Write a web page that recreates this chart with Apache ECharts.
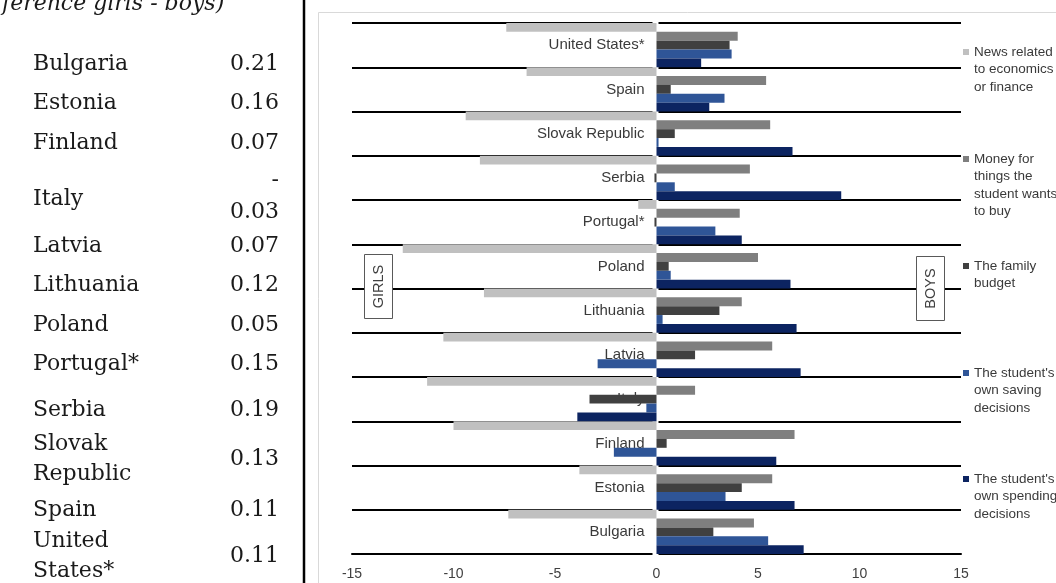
<!DOCTYPE html>
<html><head><meta charset="utf-8">
<script src="https://cdn.jsdelivr.net/npm/echarts@6/dist/echarts.min.js"></script>
<style>html,body{margin:0;padding:0;background:#fff}#c{width:1056px;height:583px}</style>
</head><body><div id="c"></div>
<script>
// ---------- data ----------
const categories = ['Bulgaria','Estonia','Finland','Italy','Latvia','Lithuania','Poland','Portugal*','Serbia','Slovak Republic','Spain','United States*'];
const newsFinance  = [-7.3,-3.8,-10.0,-11.3,-10.5,-8.5,-12.5,-0.9,-8.7,-9.4,-6.4,-7.4];
const moneyToBuy   = [4.8,5.7,6.8,1.9,5.7,4.2,5.0,4.1,4.6,5.6,5.4,4.0];
const familyBudget = [2.8,4.2,0.5,-3.3,1.9,3.1,0.6,-0.1,-0.1,0.9,0.7,3.6];
const ownSaving    = [5.5,3.4,-2.1,-0.5,-2.9,0.3,0.7,2.9,0.9,0.1,3.35,3.7];
const ownSpending  = [7.25,6.8,5.9,-3.9,7.1,6.9,6.6,4.2,9.1,6.7,2.6,2.2];
const seriesNames = ["News related to economics or finance","Money for things the student wants to buy","The family budget","The student's own saving decisions","The student's own spending decisions"];
const legendLabels = ["News related\nto economics\nor finance","Money for\nthings the\nstudent wants\nto buy","The family\nbudget","The student's\nown saving\ndecisions","The student's\nown spending\ndecisions"];
const xMin = -15, xMax = 15, xStep = 5;
const sideLabels = ['GIRLS','BOYS'];
const tableTitle = 'ference girls - boys)';
const tableCountries = ['Bulgaria','Estonia','Finland','Italy','Latvia','Lithuania','Poland','Portugal*','Serbia','Slovak Republic','Spain','United States*'];
const tableValues = [0.21,0.16,0.07,-0.03,0.07,0.12,0.05,0.15,0.19,0.13,0.11,0.11];

// ---------- layout / style ----------
const colors = ['#c0c0c0','#7f7f7f','#404040','#2f5597','#0c2461'];
const legendFirstLineY = [52,159,266,373,479];
const legendLH = 17.5;
const tableRowY = [64,103,143,199,246,285,325,364,410,459,510,556];
const gridLeft = 352;
const sans = '"Liberation Sans", Arial, sans-serif';
const serif = '"DejaVu Serif", serif';

const chart = echarts.init(document.getElementById('c'), null, {renderer:'canvas'});
const seriesData = [newsFinance, moneyToBuy, familyBudget, ownSaving, ownSpending];

const legends = seriesNames.map((nm, i) => {
  const lines = legendLabels[i].split('\n');
  const n = lines.length;
  // prepend blank lines so that the marker sits level with the first text line
  const txt = new Array(n - 1).fill(' ').concat(lines).join('\n');
  const boxH = (2 * n - 1) * legendLH;
  return {
    data: [nm], orient: 'vertical', left: 963, top: legendFirstLineY[i] - boxH / 2,
    padding: 0, itemWidth: 6, itemHeight: 6, itemGap: 0, icon: 'rect',
    selectedMode: false,
    formatter: () => txt,
    textStyle: {fontFamily: sans, fontSize: 13.5, color: '#3a3a3a', lineHeight: legendLH}
  };
});

const option = {
  animation: false,
  backgroundColor: '#ffffff',
  grid: {left: gridLeft, right: 95, top: 23, bottom: 29, containLabel: false},
  legend: legends,
  xAxis: {
    type: 'value', min: xMin, max: xMax, interval: xStep,
    axisLine: {show: true, lineStyle: {color: '#000', width: 2}},
    axisTick: {show: false}, splitLine: {show: false},
    axisLabel: {fontFamily: sans, fontSize: 14, color: '#404040', margin: 13}
  },
  yAxis: {
    type: 'category', data: categories,
    axisLine: {show: false},
    axisTick: {show: false},
    splitLine: {show: true, lineStyle: {color: '#000', width: 2}},
    axisLabel: {fontFamily: sans, fontSize: 15, color: '#3a3a3a', margin: 12, hideOverlap: false}
  },
  series: seriesData.map((d, i) => ({
    name: seriesNames[i], type: 'bar', data: d, z: 3,
    itemStyle: {color: colors[i]}, barGap: '0%', barCategoryGap: '0%'
  }))
};
chart.setOption(option);

const x0 = chart.convertToPixel({xAxisIndex: 0}, 0);
const yTop = chart.convertToPixel({yAxisIndex: 0}, categories.length - 1);
const yBot = chart.convertToPixel({yAxisIndex: 0}, 0);
const half = (yBot - yTop) / (categories.length - 1) / 2;

const graphics = [];
// chart frame
graphics.push({type: 'rect', z: 0, silent: true, shape: {x: 318.5, y: 12.5, width: 800, height: 700}, style: {fill: 'none', stroke: '#d9d9d9', lineWidth: 1}});
// gap around zero axis
graphics.push({type: 'rect', z: 2, silent: true, shape: {x: x0 - 4, y: yTop - half - 3, width: 6, height: yBot - yTop + 2 * half + 6}, style: {fill: '#ffffff'}});
// GIRLS / BOYS boxes
const boxes = [{x: 364.5, y: 254.5}, {x: 916.5, y: 256.5}];
sideLabels.forEach((t, i) => {
  graphics.push({type: 'rect', z: 5, silent: true, shape: {x: boxes[i].x, y: boxes[i].y, width: 28, height: 64}, style: {fill: '#fff', stroke: '#595959', lineWidth: 1}});
  graphics.push({type: 'text', z: 6, silent: true, x: boxes[i].x + 14, y: boxes[i].y + 32, rotation: Math.PI / 2,
    style: {text: t, fontFamily: sans, fontSize: 14.5, fill: '#404040', align: 'center', verticalAlign: 'middle'}});
});
// table on the left
graphics.push({type: 'line', z: 5, silent: true, shape: {x1: 304, y1: 0, x2: 304, y2: 583}, style: {stroke: '#000', lineWidth: 2.5}});
graphics.push({type: 'text', z: 5, silent: true, x: 2, y: 4, style: {text: tableTitle, fontFamily: serif, fontStyle: 'italic', fontSize: 22, fill: '#1a1a1a', align: 'left', verticalAlign: 'middle'}});
tableCountries.forEach((nm, i) => {
  graphics.push({type: 'text', z: 5, silent: true, x: 33, y: tableRowY[i],
    style: {text: nm, width: 150, overflow: 'break', fontFamily: serif, fontSize: 22, lineHeight: 30, fill: '#1a1a1a', align: 'left', verticalAlign: 'middle'}});
  const v = tableValues[i];
  const s = v < 0 ? '-\n' + Math.abs(v).toFixed(2) : v.toFixed(2);
  graphics.push({type: 'text', z: 5, silent: true, x: 279, y: tableRowY[i] - (v < 0 ? 3 : 0),
    style: {text: s, fontFamily: serif, fontSize: 22, lineHeight: 32, fill: '#1a1a1a', align: 'right', verticalAlign: 'middle'}});
});
// category labels sit just left of the zero line
chart.setOption({graphic: graphics, yAxis: {axisLabel: {margin: -(x0 - gridLeft - 12)}}});
</script></body></html>
